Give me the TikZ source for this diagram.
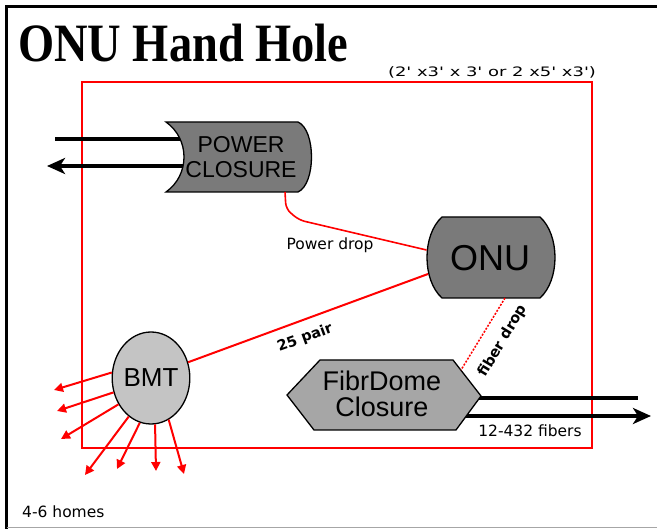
\documentclass[tikz,border=0pt]{standalone}
\usepackage{fontspec}
\newfontfamily\lsans{Liberation Sans}
\newfontfamily\dsans{DejaVu Sans}
\newfontfamily\lserif{Liberation Serif}
\usetikzlibrary{shapes.geometric,arrows.meta}
\definecolor{darkfill}{HTML}{7A7A7A}
\definecolor{midfill}{HTML}{A6A6A6}
\definecolor{lightfill}{HTML}{C4C4C4}
\begin{document}
\begin{tikzpicture}[x=1pt,y=-1pt,
  box/.style={draw=black,line width=1.3pt},
  cable/.style={black,line width=3.8pt},
  cablearrow/.style={cable,-{Stealth[length=18pt,width=16pt,inset=5pt]}},
  redline/.style={red,line width=2pt},
  homearrow/.style={red,line width=2pt,-{Triangle[length=9pt,width=9pt]}},
  biglabel/.style={inner sep=0pt,align=center,text=black},
  smalllabel/.style={inner sep=0pt,text=black,font=\dsans\fontsize{15.5}{16}\selectfont},
  boldlabel/.style={inner sep=0pt,text=black,font=\dsans\bfseries\fontsize{14.5}{15}\selectfont}
]
\useasboundingbox (0,0) rectangle (657,529);
\fill[white] (0,0) rectangle (657,529);
% outer frame
\draw[black,line width=3pt] (657,6.5) -- (6.5,6.5) -- (6.5,529);
\draw[black!35,line width=1pt] (6.5,527.5) -- (657,527.5);
% title
\node[anchor=base west,inner sep=0pt] (title) at (18,62)
  {\scalebox{0.86}[1]{\lserif\bfseries\fontsize{54}{54}\selectfont ONU Hand Hole}};
\node[inner sep=0pt] (size) at (492,72)
  {\scalebox{1.38}[1]{\dsans\fontsize{13}{13}\selectfont (2' x3' x 3' or 2 x5' x3')}};
% hand hole outline
\draw[red,line width=2pt] (82,82) rectangle (592,448);

% power cables
\coordinate (pin) at (190,139);
\coordinate (pinend) at (55,139);
\coordinate (pout) at (190,166);
\coordinate (poutend) at (47,166);
\draw[cable] (pin) -- (pinend);
\draw[cablearrow] (pout) -- (poutend);

% fibrdome cables
\coordinate (fin) at (470,398);
\coordinate (finend) at (638,398);
\coordinate (fout) at (455,416);
\coordinate (foutend) at (651,416);
\draw[cable] (fin) -- (finend);
\draw[cablearrow] (fout) -- (foutend);

% power closure
\draw[box,fill=darkfill] (166,122) -- (298,122) .. controls (316,130) and (316,184) .. (298,192)
  -- (166,192) .. controls (190,175) and (190,139) .. (166,122) -- cycle;
\node[biglabel,font=\lsans\fontsize{23}{25}\selectfont] (power) at (241,157) {POWER\\CLOSURE};
\coordinate (pcbot) at (285,192);

% ONU
\draw[box,fill=darkfill] (442,217) -- (540,217) .. controls (560,235) and (560,280) .. (540,298)
  -- (442,298) .. controls (422,280) and (422,235) .. (442,217) -- cycle;
\node[biglabel,font=\lsans\fontsize{36}{36}\selectfont] (onu) at (490,258) {ONU};
\coordinate (onuA) at (426.5,250);
\coordinate (onuB) at (428,274);
\coordinate (onuC) at (505,298);

% FibrDome closure
\draw[box,fill=midfill] (320,360) -- (453,360) -- (481,396) -- (456,430) -- (314,430) -- (287,395) -- cycle;
\node[biglabel,font=\lsans\fontsize{27}{26}\selectfont] (fibr) at (382,394) {FibrDome\\Closure};
\coordinate (fdtop) at (461,370);

% BMT
\node[ellipse,box,fill=lightfill,minimum width=73pt,minimum height=92pt,inner sep=0pt,
  font=\lsans\fontsize{26}{26}\selectfont] (bmt) at (151,378) {BMT};

% red connectors
\draw[red,line width=1.6pt,rounded corners=6pt] (pcbot) -- (286,209) -- (299,220) -- (onuA);
\draw[redline] (bmt.23) -- (onuB);
\draw[red,line width=1.5pt,dash pattern=on 2pt off 1.5pt] (onuC) -- (fdtop);

% homes
\coordinate (h1) at (54,390);
\coordinate (h2) at (57,411);
\coordinate (h3) at (61,439);
\coordinate (h4) at (85,475);
\coordinate (h5) at (117,469);
\coordinate (h6) at (156,471);
\coordinate (h7) at (184,474);
\draw[homearrow] (bmt.172) -- (h1);
\draw[homearrow] (bmt.201) -- (h2);
\draw[homearrow] (bmt.219) -- (h3);
\draw[homearrow] (bmt.240) -- (h4);
\draw[homearrow] (bmt.256) -- (h5);
\draw[homearrow] (bmt.275) -- (h6);
\draw[homearrow] (bmt.293) -- (h7);

% labels
\node[smalllabel] (pdrop) at (330,245) {Power drop};
\node[boldlabel,rotate=20] (pair) at (305,338) {25 pair};
\node[boldlabel,rotate=59] (fdrop) at (503,341) {fiber drop};
\node[smalllabel] (fibers) at (530,431) {12-432 fibers};
\node[smalllabel,anchor=west] (homes) at (22,512) {4-6 homes};
\end{tikzpicture}
\end{document}
